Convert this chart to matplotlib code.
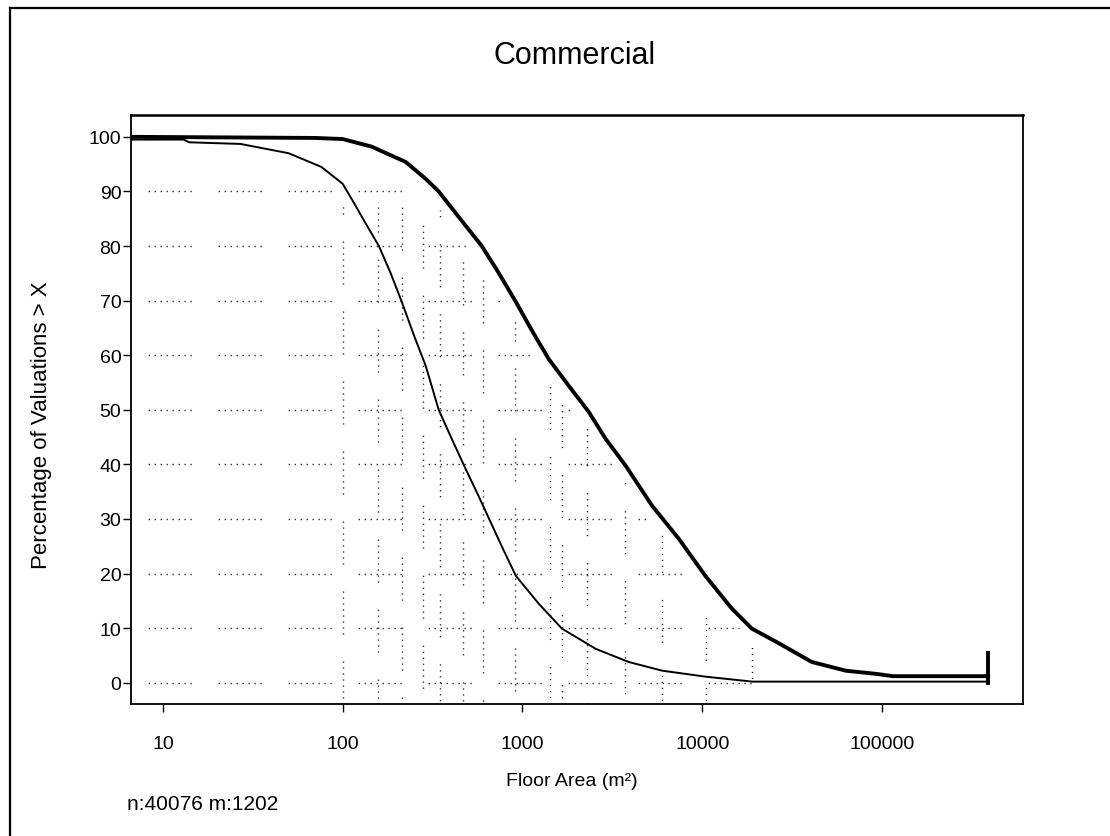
import numpy as np
import matplotlib
matplotlib.use("Agg")
import matplotlib.pyplot as plt
from matplotlib.lines import Line2D

plt.rcParams["font.family"] = ["Liberation Sans", "DejaVu Sans"]
plt.rcParams["lines.scale_dashes"] = False

# thin curve: percentage of valuations with floor area > X
count_area = [6.6, 13, 14, 27, 50, 76, 100, 115, 135, 159, 185, 213, 250, 290, 342, 404,
              470, 570, 767, 918, 1230, 1660, 2560, 3900, 6000, 10500, 19000, 390000]
count_pct = [99.5, 99.5, 99.0, 98.7, 97.0, 94.5, 91.4, 88, 84, 80, 75, 69.8, 63.5, 58,
             50, 44.7, 40, 34.2, 25, 19.6, 14.5, 9.9, 6.2, 3.8, 2.2, 1.1, 0.2, 0.2]

# thick curve
weighted_area = [6.6, 70, 100, 145, 224, 290, 342, 450, 594, 740, 918, 1130, 1400, 1800,
                 2340, 2900, 3760, 5270, 7400, 10400, 14600, 18900, 25800, 40700, 63000,
                 94000, 115000, 390000]
weighted_pct = [100, 99.8, 99.6, 98.2, 95.4, 92.3, 90, 85, 80, 75, 69.8, 64.5, 59.3,
                54.5, 49.6, 44.7, 39.7, 32.4, 26.4, 19.6, 13.6, 9.9, 7.5, 3.8, 2.2, 1.6,
                1.2, 1.2]

# end marker of the thick curve
end_area = 390000
end_low, end_high = 0, 5.5

x_ticks = [10, 100, 1000, 10000, 100000]
y_ticks = list(range(0, 101, 10))
grid_levels = list(range(0, 91, 10))
grid_x = [100, 157, 215, 280, 350, 466, 600, 910, 1420, 1660, 2300, 3700, 6000,
          10500, 19000]

fig = plt.figure(figsize=(11.1, 8.37), dpi=100)
ax = fig.add_axes([0.118, 0.1577, 0.8036, 0.7037])
ax.set_xscale("log")
ax.set_xlim(6.64, 609000)
ax.set_ylim(-3.9, 104)

# broken dotted grid, only under the thick curve
dots = [0.8, 3.5] * 7 + [0.8, 19.5]
log_w = np.log10(weighted_area)
w_desc = np.array(weighted_pct)[::-1]
for lev in grid_levels:
    right = 10 ** np.interp(lev, w_desc, log_w[::-1])
    right = min(right * 0.85, 20000)
    ax.plot([6.64, right], [lev, lev], color="black", lw=1.0,
            ls=(38, dots), zorder=1)
for i, gx in enumerate(grid_x):
    top = min(np.interp(np.log10(gx), log_w, weighted_pct) - 3, 88)
    ax.plot([gx, gx], [-3.9, top], color="black", lw=1.0,
            ls=((13 * i) % 50, dots), zorder=1)

ax.plot(count_area, count_pct, color="black", lw=1.4, zorder=3)
ax.plot(weighted_area, weighted_pct, color="black", lw=2.8, zorder=3)
ax.plot([end_area, end_area], [end_low, end_high], color="black", lw=2.8, zorder=3)

ax.set_xticks(x_ticks)
ax.set_xticklabels([str(t) for t in x_ticks])
ax.minorticks_off()
ax.set_yticks(y_ticks)
ax.tick_params(axis="x", direction="out", length=6, width=1, labelsize=14, pad=16)
ax.tick_params(axis="y", direction="out", length=6, width=1, labelsize=14, pad=1)
for s in ax.spines.values():
    s.set_linewidth(1.3)
ax.spines["top"].set_linewidth(1.8)

fig.text(0.518, 1 - 56 / 837, "Commercial", fontsize=22, ha="center", va="center")

ax.set_xlabel("Floor Area (m²)", fontsize=14)
ax.xaxis.set_label_coords(0.494, -0.115)
ax.set_ylabel("Percentage of Valuations > X", fontsize=16)
ax.yaxis.set_label_coords(-0.0886, 0.475)

fig.text(127 / 1110, 1 - 805 / 837, "n:40076 m:1202", fontsize=15, ha="left", va="center")

# outer frame (left and top edges)
fig.add_artist(Line2D([10 / 1110, 10 / 1110], [0, 1 - 9 / 837], color="black", lw=1.6))
fig.add_artist(Line2D([10 / 1110, 1], [1 - 9 / 837, 1 - 9 / 837], color="black", lw=1.6))

fig.savefig("out.png", dpi=100)
